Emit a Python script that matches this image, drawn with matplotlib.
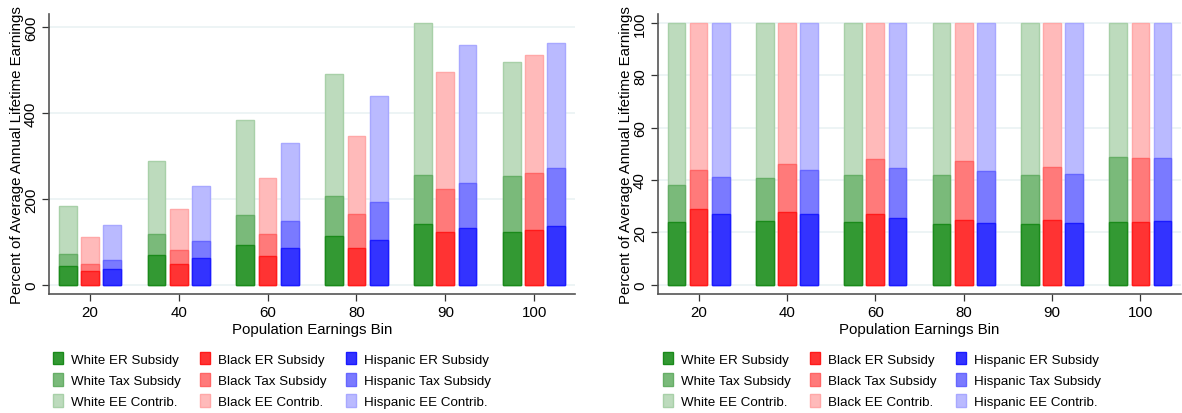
import numpy as np
import matplotlib
matplotlib.use("Agg")
import matplotlib.pyplot as plt
from matplotlib.patches import Patch

plt.rcParams['font.family'] = ['Liberation Sans', 'DejaVu Sans']
plt.rcParams['font.size'] = 10.8

bins = ['20', '40', '60', '80', '90', '100']
groups = ['White', 'Black', 'Hispanic']

# levels (cumulative tops)
er_level = {
    'White':    [44, 69, 92, 113, 141, 123],
    'Black':    [31, 48, 67, 85, 122, 128],
    'Hispanic': [37, 62, 85, 105, 131, 136],
}
tax_level = {
    'White':    [71, 118, 162, 207, 256, 253],
    'Black':    [48, 81, 118, 164, 223, 260],
    'Hispanic': [57, 101, 148, 193, 237, 272],
}
total_level = {
    'White':    [184, 289, 385, 490, 610, 518],
    'Black':    [111, 176, 249, 347, 496, 535],
    'Hispanic': [138, 230, 331, 441, 559, 563],
}

# right panel: share of total
er_share = {
    'White':    [24.0, 24.2, 24.0, 23.1, 23.1, 24.0],
    'Black':    [28.9, 27.9, 26.9, 24.7, 24.5, 24.0],
    'Hispanic': [26.9, 26.9, 25.5, 23.7, 23.4, 24.3],
}
tax_share = {
    'White':    [38.0, 40.8, 41.9, 41.9, 41.9, 48.9],
    'Black':    [43.8, 46.2, 48.0, 47.4, 45.0, 48.4],
    'Hispanic': [41.0, 43.8, 44.6, 43.4, 42.3, 48.3],
}
total_share = {g: [100] * 6 for g in groups}

face = {
    'White':    ['#339933', '#7aba7a', '#bddbbd'],
    'Black':    ['#ff3333', '#ff7a7a', '#ffbaba'],
    'Hispanic': ['#3333ff', '#7a7aff', '#babaff'],
}
edge = {
    'White':    ['#1a8a1a', '#66ae66', '#a8d0a8'],
    'Black':    ['#ff1a1a', '#ff6666', '#ffa8a8'],
    'Hispanic': ['#1a1aff', '#6666ff', '#a8a8ff'],
}
parts = ['ER Subsidy', 'Tax Subsidy', 'EE Contrib.']

W, H = 1182, 414
fig = plt.figure(figsize=(W / 100, H / 100), dpi=100)
ax1 = fig.add_axes([49 / W, 1 - 295 / H, 526 / W, 280 / H])
ax2 = fig.add_axes([658 / W, 1 - 295 / H, 523 / W, 280 / H])

x = np.arange(1, 7)
offsets = [-0.25, 0, 0.25]
bw = 0.2


def draw(ax, er, tax, tot, ylim, yticks):
    for g, off in zip(groups, offsets):
        levels = [er[g], tax[g], tot[g]]
        # draw from tallest to shortest so the smaller ones sit on top
        for k in [2, 1, 0]:
            ax.bar(x + off, levels[k], bw, color=face[g][k],
                   edgecolor=edge[g][k], linewidth=1, zorder=3)
    ax.set_xlim(0.54, 6.46)
    ax.set_ylim(*ylim)
    ax.set_xticks(x)
    ax.set_xticklabels(bins)
    ax.set_yticks(yticks)
    ax.set_yticklabels([str(t) for t in yticks], rotation=90, va='center')
    ax.grid(axis='y', color='#eaf2f3', linewidth=1.2, zorder=0)
    ax.set_axisbelow(True)
    for s in ['top', 'right']:
        ax.spines[s].set_visible(False)
    for s in ['left', 'bottom']:
        ax.spines[s].set_color('#555555')
        ax.spines[s].set_linewidth(1.2)
    ax.tick_params(axis='both', length=5, width=0.9, color='#333333',
                   labelsize=10.8, pad=3)
    ax.set_xlabel('Population Earnings Bin', fontsize=10.8, labelpad=2)
    ax.set_ylabel('Percent of Average Annual Lifetime Earnings',
                  fontsize=10.8, labelpad=0)


draw(ax1, er_level, tax_level, total_level, (-21.7, 631), [0, 200, 400, 600])
draw(ax2, er_share, tax_share, total_share, (-3.6, 103.4), [0, 20, 40, 60, 80, 100])

handles = []
labels = []
for g in groups:
    for k in range(3):
        handles.append(Patch(facecolor=face[g][k], edgecolor=edge[g][k], linewidth=1))
        labels.append(f'{g} {parts[k]}')

for xl in [53, 663]:
    fig.legend(handles, labels, ncol=3, loc='upper left',
               bbox_to_anchor=(xl / W, 1 - 353 / H), frameon=False,
               fontsize=9.6, handlelength=0.76, handleheight=1.05,
               handletextpad=0.6, columnspacing=1.42, labelspacing=0.56,
               borderpad=0, borderaxespad=0)

fig.savefig('out.png', dpi=100)
